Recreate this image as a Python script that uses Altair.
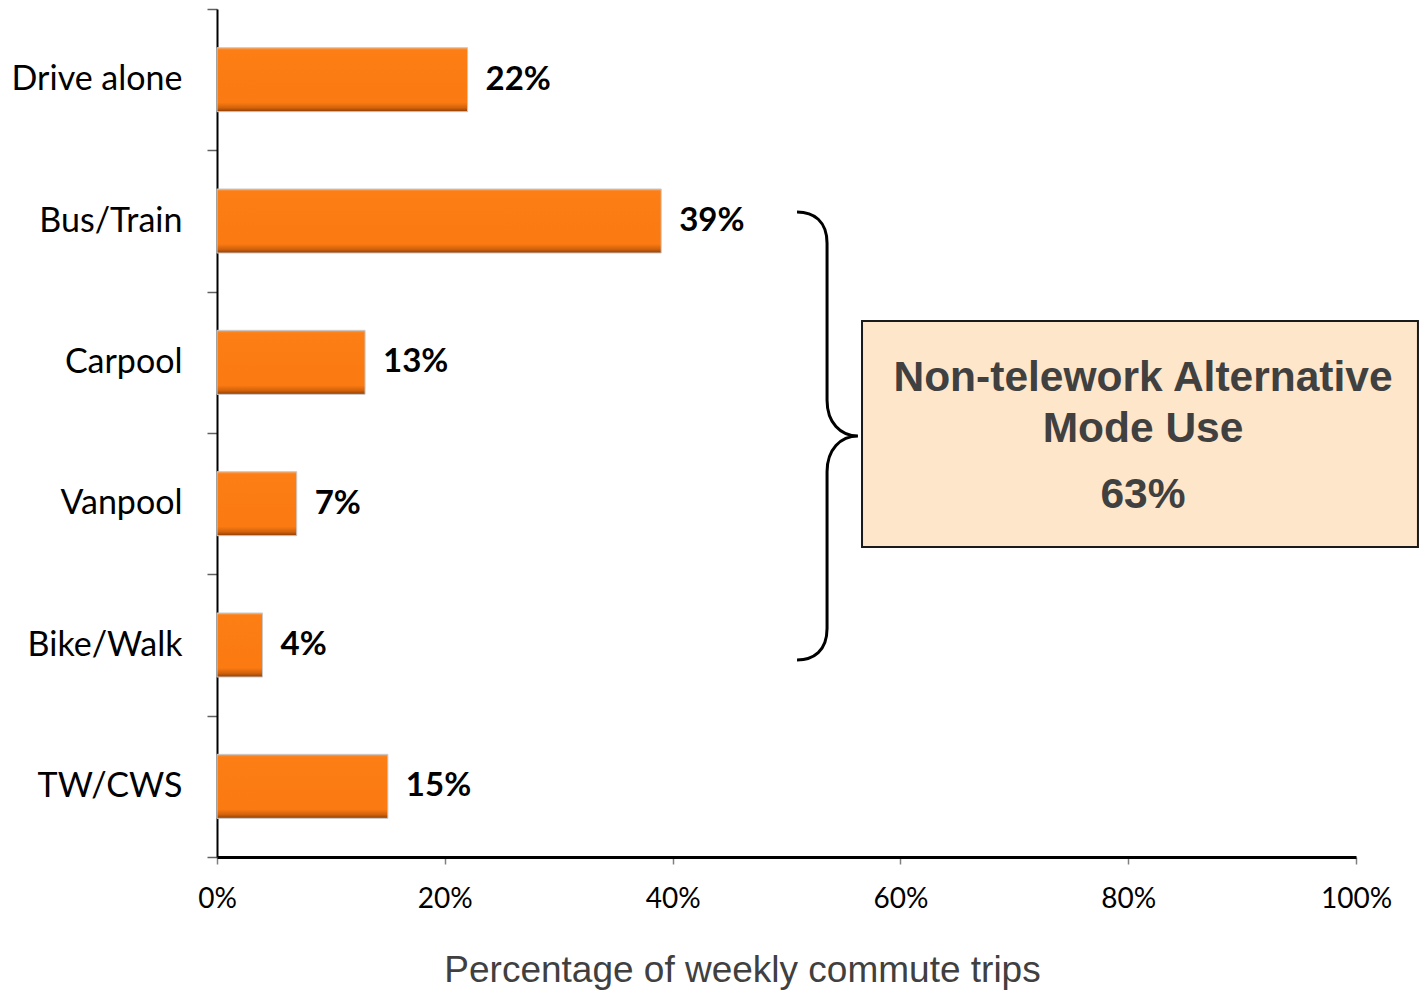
import altair as alt
import pandas as pd

categories = ["Drive alone", "Bus/Train", "Carpool", "Vanpool", "Bike/Walk", "TW/CWS"]
values = [22, 39, 13, 7, 4, 15]
x_ticks = [0, 20, 40, 60, 80, 100]
box_lines = ["Non-telework Alternative", "Mode Use", "63%"]

bars_df = pd.DataFrame({"mode": categories, "pct": values})
bars_df["label"] = [f"{v}%" for v in values]

# annotation placement (data coordinates: x in %, y in band units from top)
box_df = pd.DataFrame({"x": [56.63], "x2": [105.44], "y": [2.208], "y2": [3.807]})
text_df = pd.DataFrame({"x": [81.3, 81.3, 81.3], "y": [2.703, 3.064, 3.531], "t": box_lines})
brace_df = pd.DataFrame({"x": [53.56], "y": [3.021]})

BRACE = ("M -0.134 -1 C -0.06 -1 0 -0.96 0 -0.86 L 0 -0.16 C 0 -0.06 0.06 0 0.138 0 "
         "C 0.06 0 0 0.06 0 0.16 L 0 0.86 C 0 0.96 -0.06 1 -0.134 1")

xscale = alt.Scale(domain=[0, 100], nice=False, zero=True)
yq = alt.Scale(domain=[0, 6], reverse=True, nice=False, zero=False)

grad = alt.Gradient(
    gradient="linear", x1=0, x2=0, y1=0, y2=1,
    stops=[
        alt.GradientStop(color="#F7A25A", offset=0.0),
        alt.GradientStop(color="#FC7E14", offset=0.04),
        alt.GradientStop(color="#FB7A12", offset=0.86),
        alt.GradientStop(color="#D2620C", offset=0.94),
        alt.GradientStop(color="#8E3E05", offset=1.0),
    ],
)

bars = alt.Chart(bars_df).mark_bar(color=grad, stroke="#C9C9C9", strokeWidth=1, size=64).encode(
    x=alt.X("pct:Q", scale=xscale,
            axis=alt.Axis(values=x_ticks, labelExpr="datum.value + '%'", labelFlush=False,
                          title="Percentage of weekly commute trips",
                          titleFont="Liberation Sans", titleFontSize=37, titleFontWeight="normal",
                          titleColor="#404040", titleX=525, titleY=124, titleAlign="center",
                          titleBaseline="alphabetic",
                          labelFont="Lato", labelFontSize=28, labelColor="#000000",
                          labelPadding=21, tickSize=7, tickColor="#808080", tickWidth=1.5,
                          domainColor="#000000", domainWidth=3, grid=False)),
    y=alt.Y("mode:N", sort=categories,
            scale=alt.Scale(paddingInner=0, paddingOuter=0),
            axis=alt.Axis(title=None, tickBand="extent", tickSize=10, tickColor="#606060",
                          tickWidth=1.5, domainColor="#000000", domainWidth=2,
                          labelFont="Lato", labelFontSize=34, labelColor="#000000",
                          labelPadding=25, grid=False)),
)

labels = alt.Chart(bars_df).mark_text(
    align="left", baseline="middle", dx=18, font="Lato", fontSize=33, fontWeight="bold",
    color="#000000"
).encode(
    x=alt.X("pct:Q", scale=xscale),
    y=alt.Y("mode:N", sort=categories),
    text="label:N",
)

base_bars = alt.layer(bars, labels)

box = alt.Chart(box_df).mark_rect(fill="#FDE6C9", stroke="#1A1A1A", strokeWidth=2).encode(
    x=alt.X("x:Q", scale=xscale), x2="x2:Q",
    y=alt.Y("y:Q", scale=yq, axis=None), y2="y2:Q",
)

box_text = alt.Chart(text_df).mark_text(
    align="center", baseline="alphabetic", font="Liberation Sans", fontSize=42.5,
    fontWeight="bold", color="#404040"
).encode(
    x=alt.X("x:Q", scale=xscale),
    y=alt.Y("y:Q", scale=yq, axis=None),
    text="t:N",
)

brace = alt.Chart(brace_df).mark_point(
    shape=BRACE, filled=False, stroke="#000000", strokeWidth=3, opacity=1, size=200704
).encode(
    x=alt.X("x:Q", scale=xscale),
    y=alt.Y("y:Q", scale=yq, axis=None),
)

annot = alt.layer(box, box_text, brace)

chart = alt.layer(base_bars, annot).resolve_scale(y="independent").properties(
    width=1139, height=848,
    autosize=alt.AutoSizeParams(type="none"),
    padding={"left": 209, "top": 1, "right": 63, "bottom": 135},
).configure_view(stroke=None)

chart.save("out.html", embed_options={"renderer": "svg", "actions": False})
